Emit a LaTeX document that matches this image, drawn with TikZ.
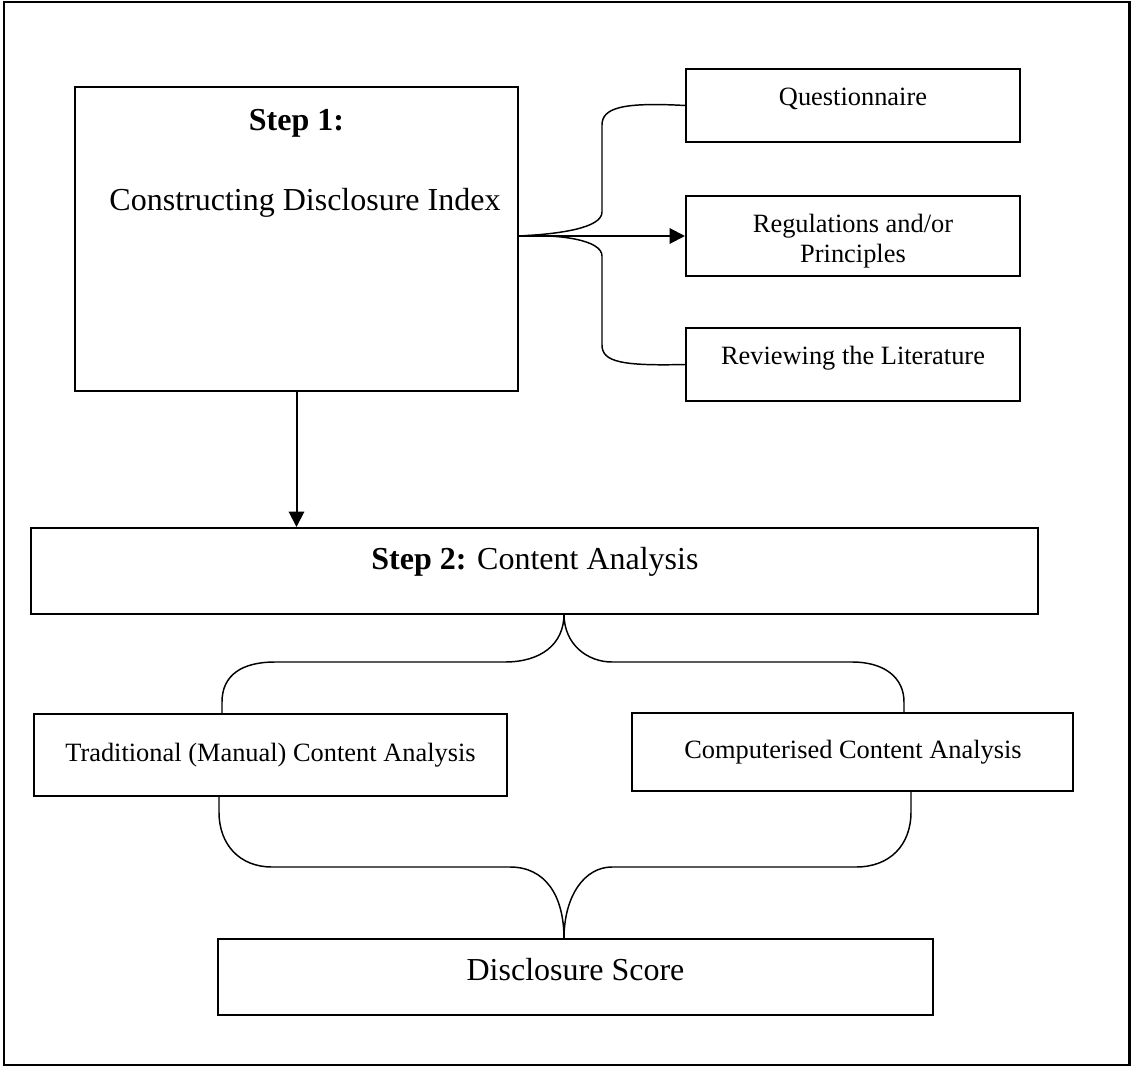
\documentclass[tikz,border=0pt]{standalone}
\usepackage{fontspec}
\setmainfont{Liberation Serif}
\usetikzlibrary{arrows.meta,fit}
\begin{document}
\begin{tikzpicture}[x=0.75pt,y=-0.75pt,
  box/.style={draw=black,line width=1.5pt,inner sep=0pt,fill=none},
  big/.style={font=\fontsize{24}{28}\selectfont,anchor=base,inner sep=0pt},
  small/.style={font=\fontsize{19.8}{22.5}\selectfont,anchor=base,inner sep=0pt,align=center},
  curve/.style={draw=black,line width=1.1pt},
  arr/.style={draw=black,line width=1.5pt,-{Triangle[length=11.5pt,width=11.5pt]}}]
\useasboundingbox (0,0) rectangle (1133,1067);
\draw[line width=1.6pt] (4,2) rectangle (1129.5,1065);
% boxes
\node[box,fit={(75,87) (518,391)}] (s1) {};
\node[box,fit={(686,69) (1020,142)}] (q) {};
\node[box,fit={(686,196) (1020,276)}] (r) {};
\node[box,fit={(686,328) (1020,401)}] (l) {};
\node[box,fit={(31,528) (1038,614)}] (s2) {};
\node[box,fit={(34,714) (507,796)}] (t) {};
\node[box,fit={(632,713) (1073,791)}] (c) {};
\node[box,fit={(218,939) (933,1015)}] (d) {};
% texts
\node[big] (s1a) at (296.5,130) {\textbf{Step 1:}};
\node[big] (s1b) at (305,210) {Constructing Disclosure Index};
\node[small] (qt) at (853,105) {Questionnaire};
\node[small] (rt1) at (853,232) {Regulations and/or};
\node[small] (rt2) at (853,262) {Principles};
\node[small] (lt) at (853,364) {Reviewing the Literature};
\node[big] (s2t) at (535,569) {\textbf{Step 2:} Content Analysis};
\node[small] (tt) at (270.5,761) {Traditional (Manual) Content Analysis};
\node[small] (ct) at (853,758) {Computerised Content Analysis};
\node[big] (dt) at (575.5,980) {Disclosure Score};
% brace coordinates
\coordinate (tip1) at (s1.east |- r.west);
\coordinate (tip2) at (564,614);
\coordinate (tip3) at (564,939);
% brace 1
\draw[curve] (q.west) .. controls (622,102) and (602,108) .. (602,125) -- (602,212)
  .. controls (602,228) and (560,234) .. (tip1);
\draw[curve] (tip1) .. controls (560,234) and (602,240) .. (602,256) -- (602,345)
  .. controls (602,362) and (622,366) .. (l.west);
\draw[arr] (tip1) -- (r.west);
% step 1 -> step 2
\draw[arr] (s1.south) -- (s1.south |- s2.north);
% brace 2
\draw[curve] (t.north -| 222,0) -- (222,702) .. controls (222,675) and (242,662) .. (275,662)
  -- (505,662) .. controls (540,662) and (564,645) .. (tip2);
\draw[curve] (tip2) .. controls (564,645) and (588,662) .. (612,662) -- (852,662)
  .. controls (885,662) and (904,678) .. (904,702) -- (c.north -| 904,0);
% brace 3
\draw[curve] (t.south -| 219,0) -- (219,812) .. controls (219,845) and (240,867) .. (272,867)
  -- (510,867) .. controls (545,867) and (564,895) .. (tip3);
\draw[curve] (tip3) .. controls (564,895) and (585,867) .. (612,867) -- (856,867)
  .. controls (890,867) and (911,845) .. (911,812) -- (c.south -| 911,0);
\end{tikzpicture}
\end{document}
